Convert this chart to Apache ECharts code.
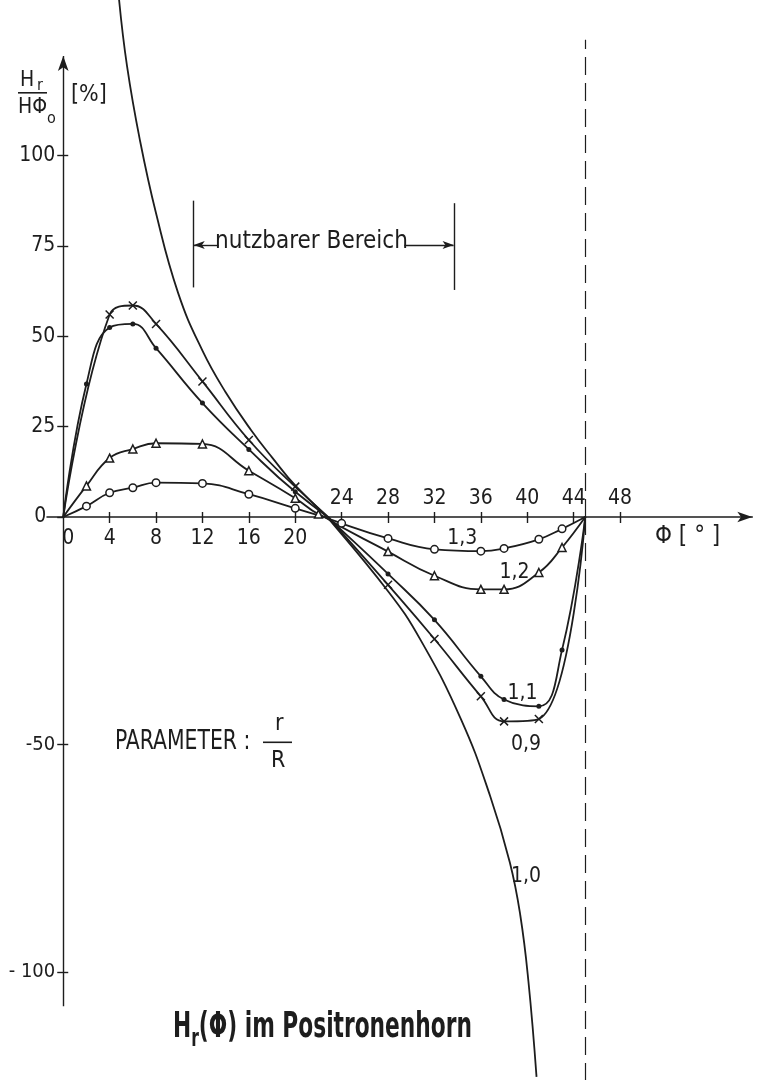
<!DOCTYPE html>
<html>
<head>
<meta charset="utf-8">
<script src="https://cdn.jsdelivr.net/npm/echarts@6/dist/echarts.min.js"></script>
<style>
  html, body { margin: 0; padding: 0; background: #ffffff; }
  #chart { width: 757px; height: 1080px; }
</style>
</head>
<body>
<div id="chart"></div>
<script>
// Radial field H_r / HΦ_0 [%] versus azimuth Φ [°], one curve per r/R value.
const phi09 = [0, 4, 6, 8, 12, 16, 20, 28, 32, 36, 38, 41, 45];
const val09 = [0, 56, 58.5, 53.4, 37.5, 21.3, 8.4, -14.9, -26.8, -39.4, -44.9, -44.4, 0];

const phi11 = [0, 2, 4, 6, 8, 12, 16, 20, 28, 32, 36, 38, 41, 43, 45];
const val11 = [0, 36.8, 52.4, 53.4, 46.7, 31.5, 18.7, 7.0, -12.5, -22.6, -35.0, -40.1, -41.6, -29.2, 0];

const phi12 = [0, 2, 4, 6, 8, 12, 16, 20, 22, 28, 32, 36, 38, 41, 43, 45];
const val12 = [0, 8.6, 16.3, 18.8, 20.4, 20.2, 12.8, 5.2, 0.8, -7.6, -12.9, -15.9, -15.9, -12.2, -6.7, 0];

const phi13 = [0, 2, 4, 6, 8, 12, 16, 20, 24, 28, 32, 36, 38, 41, 43, 45];
const val13 = [0, 3.0, 6.7, 8.1, 9.5, 9.3, 6.3, 2.4, -1.4, -4.7, -7.1, -7.5, -6.9, -4.9, -2.6, 0];

const phi10 = [4.8, 5.5, 6.6, 8, 9.9, 12, 14, 16.2, 18, 20.1, 28, 30.8, 34.3, 36.8, 38.5, 39.4, 40.1, 40.8];
const val10 = [143.5, 124.7, 104.4, 84, 62, 46, 34.5, 24, 16.5, 8.4, -16.3, -27, -44.5, -61.3, -75.9, -87.5, -102, -123];

// Axis ticks and labels
const xTickValues = [4, 8, 12, 16, 20, 24, 28, 32, 36, 40, 44, 48];
const xLabelsBelow = [0, 4, 8, 12, 16, 20];
const xLabelsAbove = [24, 28, 32, 36, 40, 44, 48];
const yLabelsPos = [0, 25, 50, 75, 100];
const yLabelsNeg = [-50, -100];

// Usable range and symmetry boundary [°]
const usableRange = [11.2, 33.7];
const boundaryPhi = 45;

const FONT = '"Liberation Sans Narrow","DejaVu Sans Condensed","Liberation Sans",sans-serif';
const INK = '#1d1d1d';

const X_MIN = -1.4, X_MAX = 59.4;
const Y_TOP = 143.0, Y_BOTTOM = -123.7;
// the vertical axis sits at Φ = 0, i.e. 1.4° right of the grid's left edge
const Y_AXIS_SHIFT = -16.24;

const crossPath = 'path://M0,0L10,10M10,0L0,10';

const curves = [
  { name: '0,9', phi: phi09, val: val09, symbol: crossPath, size: 8, fill: 'none', label: [39.9, -50.1] },
  { name: '1,1', phi: phi11, val: val11, symbol: 'circle', size: 5, fill: INK, label: [39.6, -38.7] },
  { name: '1,2', phi: phi12, val: val12, symbol: 'triangle', size: 8, fill: '#ffffff', label: [38.9, -12.3] },
  { name: '1,3', phi: phi13, val: val13, symbol: 'circle', size: 7.5, fill: '#ffffff', label: [34.4, -4.8] },
  { name: '1,0', phi: phi10, val: val10, symbol: 'none', size: 0, fill: INK, label: [39.9, -78.9] }
];

const labelText = { color: INK, fontFamily: FONT, fontSize: 21 };

const series = [];
curves.forEach(function (c) {
  [0, 1].forEach(function (g) {
    const n = c.phi.length;
    const data = c.phi.map(function (p, i) {
      const item = { value: [p, c.val[i]] };
      if (c.symbol !== 'none' && (i === 0 || i === n - 1) && c.val[i] === 0) item.symbol = 'none';
      return item;
    });
    const s = {
      type: 'line',
      name: c.name,
      xAxisIndex: g,
      yAxisIndex: g === 0 ? 0 : 2,
      data: data,
      smooth: 0.45,
      clip: true,
      silent: true,
      animation: false,
      symbol: c.symbol,
      symbolSize: c.size,
      showAllSymbol: true,
      lineStyle: { color: INK, width: 1.8 },
      itemStyle: { color: c.fill, borderColor: INK, borderWidth: c.symbol === 'circle' && c.fill === INK ? 0 : 1.5 },
      z: 3
    };
    if (g === 1) {
      s.markPoint = {
        silent: true,
        symbol: 'circle',
        symbolSize: 0,
        label: Object.assign({ show: true, formatter: c.name }, labelText),
        data: [{ coord: c.label }]
      };
    }
    series.push(s);
  });
});

// Axis lines, boundary line and the usable-range bracket
const thin = { color: INK, width: 1.4, type: 'solid' };
const dashed = { color: INK, width: 1.2, type: [18, 8] };
series.push({
  type: 'line', xAxisIndex: 0, yAxisIndex: 0, data: [], silent: true, animation: false,
  markLine: {
    silent: true, animation: false, label: { show: false }, symbol: 'none',
    lineStyle: thin,
    data: [
      [{ coord: [0, 0], symbol: 'none' }, { coord: [0, 127.5], symbol: 'arrow', symbolSize: [8, 15] }],
      [{ coord: [boundaryPhi, 0], lineStyle: dashed }, { coord: [boundaryPhi, 132] }],
      [{ coord: [usableRange[0], 63.5] }, { coord: [usableRange[0], 87.5] }],
      [{ coord: [usableRange[1], 62.8] }, { coord: [usableRange[1], 86.8] }],
      [{ coord: [13.4, 75.2], symbol: 'none' }, { coord: [usableRange[0] + 0.05, 75.2], symbol: 'arrow', symbolSize: [6, 11] }],
      [{ coord: [29.4, 75.2], symbol: 'none' }, { coord: [usableRange[1] - 0.05, 75.2], symbol: 'arrow', symbolSize: [6, 11] }]
    ]
  },
  markPoint: {
    silent: true, symbol: 'circle', symbolSize: 0,
    label: Object.assign({ show: true, formatter: 'nutzbarer Bereich' }, labelText, { fontSize: 24 }),
    data: [{ coord: [21.4, 76.2] }]
  }
});
series.push({
  type: 'line', xAxisIndex: 1, yAxisIndex: 2, data: [], silent: true, animation: false,
  markLine: {
    silent: true, animation: false, label: { show: false }, symbol: 'none',
    lineStyle: thin,
    data: [
      [{ coord: [0, 0] }, { coord: [0, -107.5] }],
      [{ coord: [boundaryPhi, 0], lineStyle: dashed }, { coord: [boundaryPhi, Y_BOTTOM] }]
    ]
  }
});

const gridSide = { left: 47, right: 4.7, outerBoundsMode: 'none', containLabel: false };
const tickLine = { color: INK, width: 1.4 };

function yAxisBase(grid, min, max) {
  return {
    type: 'value', gridIndex: grid, min: min, max: max, position: 'left', offset: Y_AXIS_SHIFT,
    splitLine: { show: false }, axisLine: { show: false, onZero: false }
  };
}

const option = {
  backgroundColor: '#ffffff',
  animation: false,
  grid: [
    Object.assign({ top: 0, height: 517 }, gridSide),
    Object.assign({ top: 517, height: 563 }, gridSide)
  ],
  xAxis: [
    {
      type: 'value', gridIndex: 0, min: X_MIN, max: X_MAX, position: 'bottom',
      splitLine: { show: false },
      axisLine: { show: true, onZero: false, symbol: ['none', 'arrow'], symbolSize: [8, 15], lineStyle: { color: INK, width: 1.5 } },
      axisTick: { show: true, inside: true, length: 5, customValues: xTickValues, lineStyle: tickLine },
      axisLabel: Object.assign({ inside: true, margin: 8, customValues: xLabelsAbove }, labelText)
    },
    {
      type: 'value', gridIndex: 1, min: X_MIN, max: X_MAX, position: 'top',
      splitLine: { show: false },
      axisLine: { show: false, onZero: false },
      axisTick: { show: true, inside: true, length: 6, customValues: xTickValues, lineStyle: tickLine },
      axisLabel: Object.assign({
        inside: true, margin: 11, customValues: xLabelsBelow,
        formatter: function (v) { return v === 0 ? '{z|0}' : String(v); },
        rich: { z: { color: INK, fontFamily: FONT, fontSize: 21, padding: [0, 0, 0, 10] } }
      }, labelText)
    }
  ],
  yAxis: [
    Object.assign(yAxisBase(0, 0, Y_TOP), {
      axisTick: { show: true, inside: false, length: 6, customValues: yLabelsPos, lineStyle: tickLine },
      axisLabel: Object.assign({
        margin: 8, customValues: yLabelsPos,
        formatter: function (v) { return v === 0 ? '{z|0}' : String(v); },
        rich: { z: { color: INK, fontFamily: FONT, fontSize: 21, padding: [0, 9, 0, 0] } }
      }, labelText)
    }),
    Object.assign(yAxisBase(0, 0, Y_TOP), {
      axisTick: { show: true, inside: true, length: 5, customValues: [25, 50, 75, 100], lineStyle: tickLine },
      axisLabel: { show: false }
    }),
    Object.assign(yAxisBase(1, Y_BOTTOM, 0), {
      axisTick: { show: true, inside: false, length: 6, customValues: yLabelsNeg, lineStyle: tickLine },
      axisLabel: Object.assign({
        margin: 8, customValues: yLabelsNeg,
        formatter: function (v) { return v === -100 ? '- 100' : String(v); }
      }, labelText, { fontSize: 20 })
    }),
    Object.assign(yAxisBase(1, Y_BOTTOM, 0), {
      axisTick: { show: true, inside: true, length: 5, customValues: yLabelsNeg, lineStyle: tickLine },
      axisLabel: { show: false }
    })
  ],
  graphic: [
    // vertical axis name: H_r / HΦ_o  [%]
    { type: 'text', left: 20, top: 70, style: { text: 'H', font: '21px ' + FONT, fill: INK } },
    { type: 'text', left: 37, top: 78, style: { text: 'r', font: '16px ' + FONT, fill: INK } },
    { type: 'rect', shape: { x: 18, y: 92, width: 29, height: 1.6 }, style: { fill: INK } },
    { type: 'text', left: 18, top: 97, style: { text: 'HΦ', font: '21px ' + FONT, fill: INK } },
    { type: 'text', left: 47, top: 111, style: { text: 'o', font: '16px ' + FONT, fill: INK } },
    { type: 'text', left: 71, top: 84, style: { text: '[%]', font: '23px ' + FONT, fill: INK } },
    // horizontal axis name
    { type: 'text', left: 655, top: 525, style: { text: 'Φ [ ° ]', font: '24px ' + FONT, fill: INK } },
    // parameter r/R
    { type: 'text', x: 115, y: 728, scaleX: 0.84, style: { text: 'PARAMETER :', font: '27px ' + FONT, fill: INK } },
    { type: 'text', left: 275, top: 713, style: { text: 'r', font: '23px ' + FONT, fill: INK } },
    { type: 'rect', shape: { x: 263, y: 741.5, width: 29, height: 1.6 }, style: { fill: INK } },
    { type: 'text', left: 271, top: 750, style: { text: 'R', font: '23px ' + FONT, fill: INK } },
    // chart title
    {
      type: 'text', x: 173, y: 1010, scaleX: 0.69,
      style: {
        text: '{a|H}{s|r}{a|(Φ) im Positronenhorn}',
        rich: {
          a: { fontFamily: FONT, fontSize: 35, fontWeight: 'bold', fill: INK, lineHeight: 42, verticalAlign: 'top' },
          s: { fontFamily: FONT, fontSize: 25, fontWeight: 'bold', fill: INK, lineHeight: 32, verticalAlign: 'bottom' }
        }
      }
    }
  ],
  series: series
};

const chart = echarts.init(document.getElementById('chart'), null, { renderer: 'canvas' });
chart.setOption(option);
</script>
</body>
</html>
